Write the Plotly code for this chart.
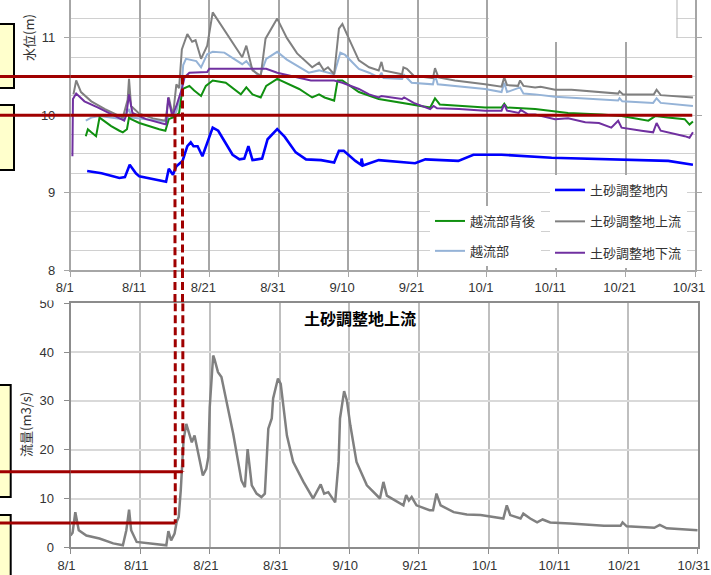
import plotly.graph_objects as go

W, H = 711, 575

# ---- date axis: 8/1 .. 10/31, x measured in days from 8/1 ----
N_DAYS = 91
DATE_LABELS = ["8/1", "8/11", "8/21", "8/31", "9/10", "9/21", "10/1", "10/11", "10/21", "10/31"]

# ---- water levels (m) ----
inner_t = [2.4, 4.5, 7.1, 7.9, 8.6, 9.5, 10.0, 13.9, 14.3, 14.9, 15.4, 16.3, 17.0, 17.5, 17.9, 18.5,
           19.2, 19.9, 20.7, 21.5, 23.6, 24.6, 25.3, 25.9, 26.5, 27.9, 28.7, 30.1, 31.2, 32.8, 34.3,
           36.5, 38.4, 39.1, 39.8, 41.5, 42.3, 42.4, 42.6, 44.9, 50.2, 51.7, 56.5, 58.7, 62.8, 70.1,
           79.8, 87.1, 90.7]
inner_v = [9.28, 9.25, 9.19, 9.20, 9.36, 9.25, 9.21, 9.14, 9.31, 9.23, 9.34, 9.41, 9.60, 9.65, 9.60, 9.60,
           9.47, 9.65, 9.84, 9.80, 9.49, 9.43, 9.44, 9.60, 9.42, 9.44, 9.69, 9.82, 9.72, 9.52, 9.43,
           9.42, 9.39, 9.54, 9.54, 9.41, 9.36, 9.44, 9.35, 9.42, 9.38, 9.43, 9.41, 9.49, 9.49, 9.45,
           9.43, 9.41, 9.36]

upper_t = [0.4, 0.8, 1.5, 3.0, 5.0, 7.6, 8.3, 8.5, 8.8, 10.0, 12.0, 13.8, 14.3, 14.9, 15.4, 15.8,
           16.2, 17.0, 17.7, 18.2, 19.0, 19.9, 20.7, 22.0, 23.5, 25.0, 25.6, 26.5, 27.7, 28.4, 30.1,
           31.5, 33.0, 35.2, 36.2, 36.9, 37.5, 38.4, 39.1, 39.6, 40.5, 42.0, 43.5, 44.9, 45.3, 45.6,
           48.3, 48.5, 49.0, 50.0, 52.8, 53.1, 53.6, 56.0, 60.4, 62.8, 63.2, 63.6, 65.2, 65.5, 66.0,
           67.7, 68.5, 70.6, 73.0, 79.8, 80.0, 80.5, 85.0, 85.4, 86.0, 90.7]
upper_v = [10.27, 10.45, 10.30, 10.18, 10.08, 9.97, 10.20, 10.47, 10.12, 10.02, 9.96, 9.93, 10.23, 9.99, 10.40, 10.35,
           10.85, 11.05, 10.95, 10.97, 10.73, 10.90, 11.33, 11.15, 10.95, 10.75, 10.90, 10.58, 10.51, 10.99, 11.25,
           11.00, 10.80, 10.62, 10.68, 10.58, 10.62, 10.53, 11.12, 11.18, 11.00, 10.71, 10.62, 10.58, 10.69, 10.58,
           10.53, 10.62, 10.60, 10.51, 10.48, 10.61, 10.49, 10.45, 10.40, 10.37, 10.49, 10.39, 10.38, 10.45, 10.38,
           10.36, 10.37, 10.33, 10.33, 10.28, 10.31, 10.27, 10.27, 10.33, 10.26, 10.23]

lower_t = [0.25, 0.33, 0.8, 2.0, 4.0, 6.0, 7.8, 8.1, 8.5, 9.0, 11.0, 13.9, 14.2, 14.8, 15.4, 16.2,
           16.6, 17.3, 19.9, 20.2, 24.0, 28.5, 30.1, 35.0, 38.4, 39.6, 42.0, 43.5, 44.9, 45.3, 48.3,
           48.6, 50.0, 52.4, 52.9, 53.4, 56.6, 60.4, 62.8, 63.2, 63.6, 65.3, 65.6, 66.7, 67.7, 70.6,
           72.5, 75.0, 77.0, 78.8, 79.8, 80.3, 83.2, 84.9, 85.4, 86.0, 89.5, 90.2, 90.7]
lower_v = [9.47, 10.21, 10.28, 10.18, 10.10, 10.01, 9.93, 10.00, 10.27, 10.03, 9.95, 9.88, 10.23, 9.99, 10.12, 10.34,
           10.49, 10.55, 10.56, 10.60, 10.60, 10.60, 10.55, 10.45, 10.45, 10.42, 10.34, 10.27, 10.23, 10.25, 10.21,
           10.23, 10.16, 10.08, 10.12, 10.09, 10.08, 10.06, 10.06, 10.14, 10.06, 10.03, 10.07, 10.01, 10.01, 9.95,
           9.96, 9.91, 9.90, 9.84, 9.93, 9.84, 9.80, 9.78, 9.90, 9.80, 9.73, 9.71, 9.78]

weir_back_t = [2.2, 2.5, 3.0, 3.7, 4.2, 5.9, 7.1, 7.6, 8.2, 8.5, 8.8, 10.0, 12.9, 13.8, 14.3, 15.1,
               15.8, 16.3, 17.3, 18.0, 19.0, 19.7, 20.7, 22.6, 24.8, 25.6, 26.5, 27.7, 28.5, 30.1, 33.3,
               35.2, 36.2, 37.0, 38.4, 38.9, 39.6, 42.0, 44.9, 49.7, 52.4, 53.1, 53.8, 60.4, 62.8, 63.2,
               63.6, 67.7, 72.5, 77.4, 80.3, 84.2, 85.2, 87.0, 89.5, 90.2, 90.7]
weir_back_v = [9.73, 9.82, 9.78, 9.73, 9.97, 9.86, 9.80, 9.78, 9.82, 9.97, 9.95, 9.90, 9.82, 9.80, 9.95, 9.98,
               10.03, 10.34, 10.38, 10.32, 10.25, 10.38, 10.45, 10.42, 10.27, 10.36, 10.27, 10.23, 10.38, 10.47, 10.34,
               10.23, 10.27, 10.23, 10.19, 10.45, 10.45, 10.30, 10.21, 10.14, 10.10, 10.22, 10.14, 10.10, 10.10, 10.15,
               10.10, 10.08, 10.03, 10.01, 9.99, 9.93, 9.99, 9.97, 9.95, 9.88, 9.92]

weir_t = [2.2, 3.0, 4.2, 7.6, 8.5, 8.9, 11.0, 13.9, 14.3, 14.9, 15.4, 16.1, 16.4, 16.8, 18.3, 19.0,
          19.9, 20.7, 22.4, 25.0, 25.6, 27.5, 28.5, 30.1, 31.5, 34.7, 36.2, 38.4, 39.3, 40.0, 42.0,
          43.5, 44.9, 45.3, 45.6, 48.3, 48.6, 49.7, 52.8, 53.1, 53.5, 60.4, 62.8, 63.2, 63.6, 65.5,
          66.0, 67.7, 70.6, 79.8, 80.0, 80.4, 84.9, 85.4, 86.0, 90.7]
weir_v = [9.93, 9.97, 9.99, 9.95, 10.08, 9.97, 9.95, 9.92, 10.00, 9.97, 10.05, 10.30, 10.65, 10.73, 10.70, 10.62,
          10.79, 10.82, 10.81, 10.66, 10.70, 10.49, 10.73, 10.82, 10.72, 10.55, 10.58, 10.53, 10.81, 10.78, 10.60,
          10.55, 10.49, 10.55, 10.48, 10.47, 10.52, 10.42, 10.40, 10.52, 10.40, 10.34, 10.30, 10.42, 10.30, 10.36,
          10.28, 10.27, 10.24, 10.19, 10.22, 10.18, 10.16, 10.22, 10.16, 10.12]

# ---- discharge upstream of the sediment basin (m3/s) ----
flow_t = [0.0, 0.3, 0.7, 1.2, 2.3, 4.2, 6.2, 7.6, 8.1, 8.5, 8.8, 9.6, 13.9, 14.2, 14.6, 15.1,
          15.4, 15.7, 16.0, 16.2, 16.4, 16.8, 17.3, 17.6, 18.0, 18.4, 18.75, 19.2, 19.7, 20.0, 20.2,
          20.7, 20.9, 21.4, 21.9, 23.6, 24.8, 25.3, 25.7, 26.3, 27.0, 27.7, 28.2, 28.7, 29.2, 29.4,
          30.1, 30.5, 31.4, 32.3, 33.8, 35.2, 36.3, 36.8, 37.4, 38.4, 38.9, 39.1, 39.7, 40.1, 40.6,
          41.5, 43.0, 44.9, 45.4, 45.9, 48.3, 48.7, 49.1, 49.5, 50.2, 52.1, 52.6, 53.1, 53.7, 55.6,
          57.5, 59.5, 62.8, 63.3, 63.8, 65.3, 65.7, 66.7, 67.7, 68.5, 69.6, 72.5, 77.4, 79.8, 80.1,
          80.7, 84.7, 85.5, 86.5, 91.0]
flow_q = [2.4, 3.0, 7.2, 3.5, 2.4, 1.8, 0.8, 0.4, 3.5, 7.7, 3.5, 1.1, 0.4, 3.3, 1.4, 2.8,
          5.2, 6.2, 11.7, 17.8, 21.9, 25.3, 22.6, 21.5, 22.9, 20.5, 17.8, 14.7, 16.1, 18.5, 28.7,
          39.3, 38.5, 35.9, 34.9, 23.3, 13.7, 12.3, 20.1, 12.7, 11.0, 10.3, 11.0, 24.3, 26.4, 30.5,
          34.6, 33.5, 22.9, 17.5, 13.4, 10.0, 12.9, 11.0, 11.3, 9.2, 17.5, 26.4, 32.0, 30.1, 25.0,
          17.5, 12.7, 10.0, 13.4, 10.6, 8.6, 10.7, 9.6, 10.3, 8.6, 7.6, 7.6, 11.0, 8.6, 7.2,
          6.7, 6.6, 5.9, 8.6, 6.6, 5.9, 6.9, 5.9, 5.1, 5.7, 5.1, 4.9, 4.4, 4.4, 5.1,
          4.3, 4.0, 4.6, 3.9, 3.5]

# ---- threshold guides: level (m) <-> discharge (m3/s) at the moment it was reached ----
guide_level = [10.0, 10.5]
guide_flow = [5.0, 15.5]
guide_day = [15.2, 16.3]
guide_end_day = 90.6

# ---- layout geometry (pixels) ----
top_x = (70.7, 695.0)
bot_x = (70.5, 697.7)
top_y = (0.0, 270.0)        # top / bottom edges of the level panel
bot_y = (303.3, 547.3)      # top / bottom edges of the discharge panel


def px_x(p):
    return p / W


def px_y(p):
    return 1 - p / H


tick_pos = [i * N_DAYS / (len(DATE_LABELS) - 1) for i in range(len(DATE_LABELS))]

TICK_FONT = dict(family="Liberation Sans, Arial, sans-serif", size=13, color="#333333")
JP_FONT = "Noto Sans CJK JP"

fig = go.Figure()

line_series = [
    ("越流部", weir_t, weir_v, "#95B3D7", 2, "legend2", 2),
    ("土砂調整地上流", upper_t, upper_v, "#808080", 2, "legend", 2),
    ("越流部背後", weir_back_t, weir_back_v, "#109010", 2, "legend2", 1),
    ("土砂調整地下流", lower_t, lower_v, "#7030A0", 2, "legend", 3),
    ("土砂調整地内", inner_t, inner_v, "#0000FF", 2.6, "legend", 1),
]
for name, t, v, color, width, leg, rank in line_series:
    fig.add_trace(go.Scatter(
        x=t, y=v, name=name, mode="lines",
        line=dict(color=color, width=width),
        xaxis="x", yaxis="y", legend=leg, legendgroup=name, legendrank=rank,
    ))

fig.add_trace(go.Scatter(
    x=flow_t, y=flow_q, name="土砂調整地上流", mode="lines",
    line=dict(color="#808080", width=2.5),
    xaxis="x2", yaxis="y2", showlegend=False,
))

common_x = dict(
    range=[0, N_DAYS], tickmode="array", tickvals=tick_pos, ticktext=DATE_LABELS,
    ticks="outside", ticklen=5, tickfont=TICK_FONT, showline=True, zeroline=False,
    automargin=False, ticklabeloverflow="allow",
)

fig.update_layout(
    template="none",
    width=W, height=H,
    margin=dict(l=0, r=0, t=0, b=0, pad=0),
    paper_bgcolor="white", plot_bgcolor="white",
    xaxis=dict(
        common_x, domain=[px_x(top_x[0]), px_x(top_x[1])], anchor="y",
        showgrid=True, gridcolor="#A6A6A6", gridwidth=1.5, ticklabelshift=-6,
        linecolor="#A6A6A6", linewidth=1.5, tickcolor="#A6A6A6",
    ),
    yaxis=dict(
        domain=[px_y(top_y[1]), px_y(top_y[0])], anchor="x", automargin=False,
        range=[8, 11.49], tick0=8, dtick=1, ticks="outside", ticklen=5,
        tickcolor="#A6A6A6", tickfont=TICK_FONT, ticklabelstandoff=6,
        showgrid=True, gridcolor="#D0D0D0", gridwidth=1.2,
        minor=dict(dtick=0.25, showgrid=True, gridcolor="#D0D0D0", gridwidth=1.2, ticks=""),
        showline=True, linecolor="#A6A6A6", linewidth=1.5, mirror="ticks", zeroline=False,
    ),
    xaxis2=dict(
        common_x, domain=[px_x(bot_x[0]), px_x(bot_x[1])], anchor="y2",
        showgrid=True, gridcolor="#BFBFBF", gridwidth=1.5, ticklabelshift=-4,
        linecolor="#8C8C8C", linewidth=2, tickcolor="#8C8C8C", mirror=True,
    ),
    yaxis2=dict(
        domain=[px_y(bot_y[1]), px_y(bot_y[0])], anchor="x2", automargin=False,
        range=[0, 50], dtick=10, ticks="outside", ticklen=5, tickcolor="#8C8C8C",
        tickfont=TICK_FONT, ticklabelstandoff=7,
        showgrid=True, gridcolor="#D9D9D9", gridwidth=1.5,
        showline=True, linecolor="#8C8C8C", linewidth=2, mirror=True, zeroline=False,
    ),
    legend=dict(
        x=px_x(550), y=px_y(175), xanchor="left", yanchor="top",
        bgcolor="white", borderwidth=0, tracegroupgap=11.5,
        font=dict(family=JP_FONT, size=13, color="#333333"),
    ),
    legend2=dict(
        x=px_x(430), y=px_y(206), xanchor="left", yanchor="top",
        bgcolor="white", borderwidth=0, tracegroupgap=10,
        font=dict(family=JP_FONT, size=13, color="#333333"),
    ),
    showlegend=True,
)

shapes = []
# blank panel over the upper-right corner of the level chart
shapes.append(dict(type="rect", xref="paper", yref="paper", layer="above",
                   x0=px_x(489), x1=px_x(676.5), y0=px_y(42), y1=1.01,
                   fillcolor="white", line=dict(width=0)))
shapes.append(dict(type="line", xref="paper", yref="paper", layer="above",
                   x0=px_x(677), x1=px_x(677), y0=px_y(38), y1=1.0,
                   line=dict(color="#BFBFBF", width=1.2)))
# top of the "50" label is hidden behind the level chart
shapes.append(dict(type="rect", xref="paper", yref="paper", layer="above",
                   x0=px_x(30), x1=px_x(66), y0=px_y(300.5), y1=px_y(292),
                   fillcolor="white", line=dict(width=0)))

# note boxes along the left edge
for y0, y1, right in [(24, 88, 14), (105, 170, 14), (385, 497, 10.7), (515, 590, 10.7)]:
    shapes.append(dict(type="rect", xref="paper", yref="paper", layer="above",
                       x0=-0.05, x1=px_x(right), y0=px_y(y1), y1=px_y(y0),
                       fillcolor="#FFFFCC", line=dict(color="black", width=2)))

RED = "#A00000"
dom_top = (px_y(top_y[1]), px_y(top_y[0]))
dom_bot = (px_y(bot_y[1]), px_y(bot_y[0]))
gap_frac = (dom_top[0] - dom_bot[1]) / (dom_top[1] - dom_top[0])

for lvl in guide_level:
    shapes.append(dict(type="line", xref="paper", yref="y", layer="above",
                       x0=0, x1=px_x(top_x[0]), y0=lvl, y1=lvl,
                       line=dict(color=RED, width=3)))
    shapes.append(dict(type="line", xref="x", yref="y", layer="above",
                       x0=0, x1=guide_end_day, y0=lvl, y1=lvl,
                       line=dict(color=RED, width=3)))

for q, d in zip(guide_flow, guide_day):
    shapes.append(dict(type="line", xref="paper", yref="y2", layer="above",
                       x0=0, x1=px_x(bot_x[0]), y0=q, y1=q,
                       line=dict(color=RED, width=3)))
    shapes.append(dict(type="line", xref="x2", yref="y2", layer="above",
                       x0=0, x1=d, y0=q, y1=q,
                       line=dict(color=RED, width=3)))

DASH = dict(color=RED, width=3, dash="8px,4px")
for lvl, q, d in zip(guide_level, guide_flow, guide_day):
    shapes.append(dict(type="line", xref="x", yref="y", layer="above",
                       x0=d, x1=d, y0=lvl, y1=8, line=DASH))
    shapes.append(dict(type="line", xref="x", yref="y domain", layer="above",
                       x0=d, x1=d, y0=0, y1=-gap_frac, line=DASH))
    shapes.append(dict(type="line", xref="x2", yref="y2", layer="above",
                       x0=d, x1=d, y0=50, y1=q, line=DASH))

fig.update_layout(shapes=shapes)

fig.add_annotation(text="<b>土砂調整地上流</b>", xref="paper", yref="paper",
                   x=px_x(359.5), y=px_y(318), xanchor="center", yanchor="middle",
                   showarrow=False, font=dict(family=JP_FONT, size=16, color="black"))
fig.add_annotation(text="水位(m)", xref="paper", yref="paper", textangle=-90,
                   x=px_x(28), y=px_y(38), xanchor="center", yanchor="middle",
                   showarrow=False, font=dict(family=JP_FONT, size=13, color="#333333"))
fig.add_annotation(text="流量(m3/s)", xref="paper", yref="paper", textangle=-90,
                   x=px_x(25), y=px_y(425), xanchor="center", yanchor="middle",
                   showarrow=False, font=dict(family=JP_FONT, size=13, color="#333333"))

fig.write_html("out.html")
